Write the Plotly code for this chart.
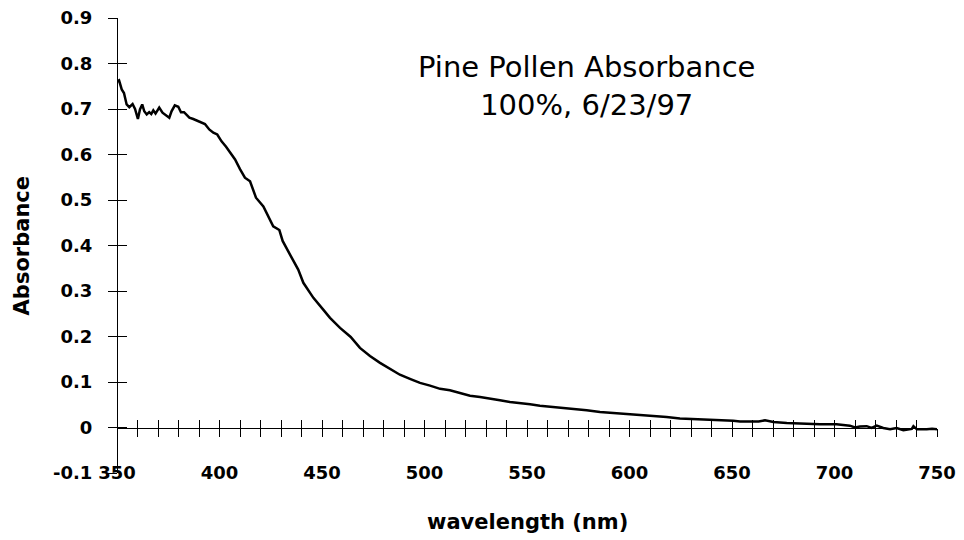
import plotly.graph_objects as go

# wavelength (nm) and absorbance
wavelength = [350, 351, 352.3, 353.4, 354.7, 356, 357.6, 358.8, 360.2, 361.2, 362.3, 363.3,
              364.5, 365.7, 366.7, 367.7, 368.8, 370.6, 372.2, 374.2, 375.5, 376.6, 378.2,
              379.9, 381.2, 382.7, 384, 385.3, 387.2, 389.7, 392.9, 395, 397, 398.9, 401,
              403.2, 405.1, 407.6, 410, 412.4, 414.9, 417.8, 421.4, 423, 426.2, 429.2, 430.8,
              434.4, 438.4, 440.9, 445.8, 450.6, 453.9, 458.8, 464, 468.5, 473.4, 478.3,
              483.2, 488, 492.9, 497.8, 502.7, 507.6, 512.4, 517.3, 522.2, 527.1, 532, 536.8,
              541.7, 546.6, 551.5, 556.3, 561.2, 566.1, 572.6, 579.1, 585.6, 592.2, 598.6,
              605.1, 611.6, 618.1, 624.6, 631.1, 637.6, 644.1, 650.6, 653.9, 657.2, 660.4,
              663, 666.1, 670.2, 676.7, 681.6, 686.4, 692.9, 701, 707.5, 710, 712.4, 715.7,
              718.1, 720.6, 723.8, 727.1, 730.3, 733.6, 737.7, 738.5, 740.2, 745, 747.6, 750]
absorbance = [0.761, 0.763, 0.743, 0.735, 0.710, 0.704, 0.711, 0.700, 0.678, 0.699, 0.710, 0.695,
              0.688, 0.693, 0.689, 0.697, 0.690, 0.703, 0.692, 0.686, 0.681, 0.695, 0.708,
              0.705, 0.693, 0.693, 0.686, 0.681, 0.678, 0.673, 0.667, 0.655, 0.648, 0.644, 0.629,
              0.617, 0.604, 0.589, 0.568, 0.549, 0.541, 0.505, 0.486, 0.472, 0.442, 0.434, 0.410,
              0.380, 0.347, 0.318, 0.285, 0.259, 0.241, 0.219, 0.199, 0.175, 0.157, 0.142,
              0.129, 0.116, 0.107, 0.098, 0.092, 0.085, 0.082, 0.076, 0.070, 0.067, 0.064, 0.060,
              0.056, 0.054, 0.051, 0.048, 0.046, 0.043, 0.041, 0.038, 0.034, 0.032, 0.030,
              0.027, 0.025, 0.023, 0.020, 0.019, 0.018, 0.017, 0.015, 0.013, 0.013, 0.014,
              0.013, 0.016, 0.012, 0.010, 0.009, 0.007, 0.007, 0.007, 0.004, 0.000, 0.002, 0.003,
              -0.001, 0.004, -0.001, -0.004, -0.001, -0.006, -0.003, 0.003, -0.004, -0.004, -0.003, -0.004]

x_range = [350, 750]
y_range = [-0.1, 0.9]

x_tickvals = [350, 400, 450, 500, 550, 600, 650, 700, 750]
y_tickvals = [-0.1, 0, 0.1, 0.2, 0.3, 0.4, 0.5, 0.6, 0.7, 0.8, 0.9]
y_ticktext = ["-0.1", "0", "0.1", "0.2", "0.3", "0.4", "0.5", "0.6", "0.7", "0.8", "0.9"]

title_text = "Pine Pollen Absorbance<br>100%, 6/23/97"
x_title = "wavelength (nm)"
y_title = "Absorbance"

FONT = "DejaVu Sans"

fig = go.Figure()
fig.add_trace(go.Scatter(x=wavelength, y=absorbance, mode="lines",
                         line=dict(color="black", width=2.5), showlegend=False,
                         hoverinfo="skip"))
# helper traces so the overlay axes (crossing ticks, bottom labels) are drawn
fig.add_trace(go.Scatter(x=wavelength, y=absorbance, mode="lines", xaxis="x2", yaxis="y",
                         opacity=0, showlegend=False, hoverinfo="skip"))
fig.add_trace(go.Scatter(x=wavelength, y=absorbance, mode="lines", xaxis="x3", yaxis="y2",
                         opacity=0, showlegend=False, hoverinfo="skip"))

tickfont = dict(family=FONT, size=18, color="black", weight="bold")

fig.update_layout(
    width=956, height=532,
    margin=dict(l=109, r=27, t=10, b=67),
    paper_bgcolor="white", plot_bgcolor="white",
    showlegend=False,
    xaxis=dict(range=x_range, anchor="free", position=0.1, showline=True,
               linecolor="black", linewidth=1, ticks="outside", ticklen=8,
               tickcolor="black", tickwidth=1, tick0=350, dtick=10,
               showticklabels=False, showgrid=False, zeroline=False, automargin=False),
    xaxis3=dict(range=x_range, overlaying="x", anchor="free", position=0.1,
                showline=False, ticks="inside", ticklen=8, tickcolor="black",
                tickwidth=1, tick0=350, dtick=10, showticklabels=False,
                showgrid=False, zeroline=False, automargin=False),
    xaxis2=dict(range=x_range, overlaying="x", anchor="free", position=0.028,
                showline=False, ticks="", tickvals=x_tickvals, tickfont=tickfont,
                ticklabeloverflow="allow",
                showgrid=False, zeroline=False, automargin=False),
    yaxis=dict(range=y_range, anchor="free", position=0, showline=True,
               linecolor="black", linewidth=1, ticks="outside", ticklen=9,
               tickcolor="black", tickwidth=1, tickvals=y_tickvals,
               ticktext=y_ticktext, tickfont=tickfont, ticklabelstandoff=12,
               ticklabeloverflow="allow",
               showgrid=False, zeroline=False, automargin=False),
    yaxis2=dict(range=y_range, overlaying="y", anchor="free", position=0,
                showline=False, ticks="inside", ticklen=9, tickcolor="black",
                tickwidth=1, tick0=0, dtick=0.1, showticklabels=False,
                showgrid=False, zeroline=False, automargin=False),
    annotations=[
        dict(text=title_text, xref="paper", yref="paper", x=0.573, y=0.85,
             showarrow=False, xanchor="center", yanchor="middle",
             font=dict(family=FONT, size=29, color="black")),
        dict(text=x_title, xref="paper", yref="paper", x=0.5, y=-0.108,
             showarrow=False, xanchor="center", yanchor="middle",
             font=dict(family=FONT, size=21, color="black", weight="bold")),
        dict(text=y_title, xref="paper", yref="paper", x=-0.116, y=0.5,
             showarrow=False, xanchor="center", yanchor="middle", textangle=-90,
             font=dict(family=FONT, size=21, color="black", weight="bold")),
    ],
)

fig.write_html("out.html")
